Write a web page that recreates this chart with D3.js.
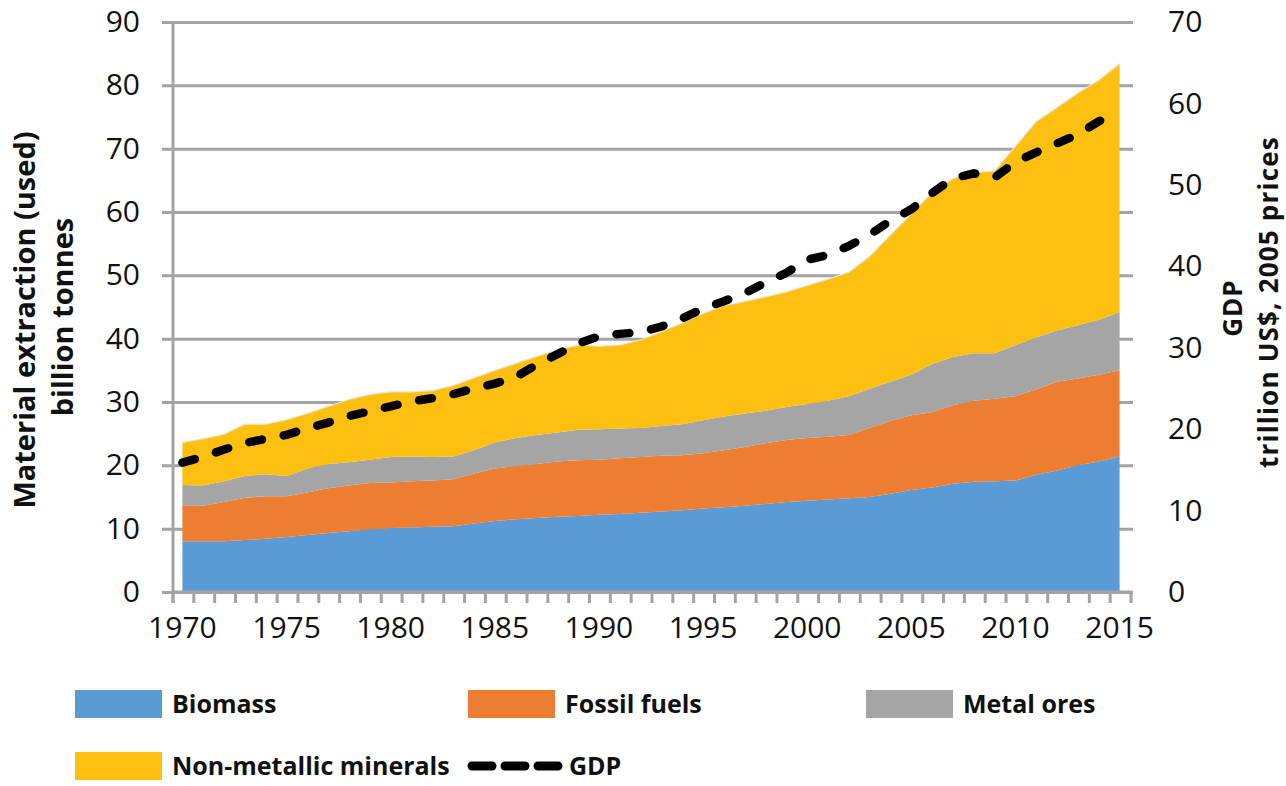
<!DOCTYPE html>
<html>
<head>
<meta charset="utf-8">
<script src="https://cdn.jsdelivr.net/npm/d3@7"></script>
<style>
  body { margin: 0; background: #fff; }
  svg { display: block; }
  text { font-family: "Open Sans", "DejaVu Sans", sans-serif; fill: #111; }
</style>
</head>
<body>
<svg id="chart" width="1286" height="786"></svg>
<script>
// years on the category axis
var years = d3.range(1970, 2016);

// material extraction, billion tonnes (one value per year)
var biomass = [8.0, 8.0, 8.0, 8.2, 8.4, 8.7, 9.0, 9.3, 9.6, 9.9,
  10.1, 10.2, 10.3, 10.4, 10.8, 11.2, 11.5, 11.7, 11.9, 12.0,
  12.2, 12.3, 12.5, 12.7, 12.9, 13.2, 13.4, 13.6, 13.9, 14.2,
  14.4, 14.6, 14.8, 15.0, 15.5, 16.1, 16.5, 17.1, 17.4, 17.5,
  17.6, 18.5, 19.2, 20.0, 20.6, 21.4];
var fossilFuels = [5.7, 5.6, 6.2, 6.7, 6.7, 6.4, 6.7, 7.1, 7.2, 7.3,
  7.2, 7.3, 7.3, 7.4, 7.9, 8.3, 8.4, 8.5, 8.7, 8.8,
  8.7, 8.8, 8.8, 8.8, 8.7, 8.7, 9.0, 9.3, 9.6, 9.8,
  9.9, 9.9, 10.0, 10.9, 11.5, 11.8, 11.9, 12.4, 12.8, 13.0,
  13.3, 13.5, 14.0, 13.7, 13.7, 13.6];
var metalOres = [3.2, 3.2, 3.3, 3.4, 3.5, 3.2, 3.8, 3.8, 3.7, 3.7,
  4.0, 3.9, 3.7, 3.6, 3.7, 4.1, 4.4, 4.6, 4.6, 4.8,
  4.8, 4.7, 4.6, 4.7, 4.9, 5.2, 5.3, 5.3, 5.1, 5.2,
  5.4, 5.7, 6.1, 6.2, 6.2, 6.4, 7.6, 7.6, 7.5, 7.2,
  8.1, 8.2, 8.1, 8.4, 8.7, 9.2];
var nonMetallic = [6.7, 7.4, 7.4, 8.2, 7.9, 8.9, 8.7, 9.1, 9.9, 10.3,
  10.3, 10.2, 10.5, 11.2, 11.4, 11.4, 11.8, 12.4, 13.0, 13.4,
  13.1, 13.2, 13.9, 14.9, 16.0, 16.9, 17.5, 17.7, 18.0, 18.2,
  18.7, 19.2, 19.6, 20.9, 23.2, 25.4, 27.1, 28.2, 28.5, 28.8,
  31.4, 34.1, 35.2, 36.7, 37.8, 39.2];

// GDP, trillion US$ (2005 prices), right axis
var gdp = [15.9, 16.6, 17.5, 18.3, 18.8, 19.3, 20.1, 20.8, 21.6, 22.2,
  22.8, 23.4, 23.8, 24.3, 25.0, 25.6, 26.4, 27.9, 29.2, 30.5,
  31.4, 31.7, 31.9, 32.6, 33.6, 34.8, 35.7, 36.7, 38.0, 39.2,
  40.8, 41.4, 42.5, 43.9, 45.6, 47.0, 49.0, 50.8, 51.4, 50.9,
  52.8, 54.0, 55.1, 56.2, 57.8, 58.9];

var leftTicks = d3.range(0, 91, 10);
var rightTicks = d3.range(0, 71, 10);
var yearLabels = d3.range(1970, 2016, 5);

var seriesNames = ["Biomass", "Fossil fuels", "Metal ores", "Non-metallic minerals"];
var seriesColors = ["#5b9bd5", "#ed7d31", "#a5a5a5", "#fdc010"];
var gridColor = "#a3a3a3";

(function () {
  var svg = d3.select("#chart");

  var plotLeft = 172, plotRight = 1130, plotTop = 22, plotBottom = 592;

  var x = d3.scaleBand().domain(years).range([plotLeft, plotRight]).padding(0);
  var y = d3.scaleLinear().domain([0, 90]).range([plotBottom, plotTop]);
  var y2 = d3.scaleLinear().domain([0, 70]).range([plotBottom, plotTop]);

  function cx(year) { return x(year) + x.bandwidth() / 2; }

  // rows for the stack
  var rows = years.map(function (yr, i) {
    return {
      year: yr,
      "Biomass": biomass[i],
      "Fossil fuels": fossilFuels[i],
      "Metal ores": metalOres[i],
      "Non-metallic minerals": nonMetallic[i]
    };
  });
  var stacked = d3.stack().keys(seriesNames)(rows);

  //
  // gridlines (behind the areas, running a bit past both ends)
  //
  var grid = svg.append("g")
    .attr("transform", "translate(1133,0)")
    .call(d3.axisLeft(y).tickValues(leftTicks).tickSize(1133 - 162).tickFormat(""));
  grid.select(".domain").remove();
  grid.selectAll("line").attr("stroke", gridColor).attr("stroke-width", 3);

  //
  // stacked areas
  //
  var area = d3.area()
    .x(function (d) { return cx(d.data.year); })
    .y0(function (d) { return y(d[0]); })
    .y1(function (d) { return y(d[1]); });

  svg.append("g").selectAll("path")
    .data(stacked)
    .join("path")
    .attr("fill", function (d, i) { return seriesColors[i]; })
    .attr("d", area);

  // thin light rim on top of the pile
  svg.append("path")
    .datum(stacked[3])
    .attr("fill", "none")
    .attr("stroke", "#e9e4d4")
    .attr("stroke-width", 1.2)
    .attr("d", d3.line()
      .x(function (d) { return cx(d.data.year); })
      .y(function (d) { return y(d[1]); }));

  //
  // axis lines and ticks
  //
  svg.append("line")
    .attr("x1", plotLeft + 1).attr("x2", plotLeft + 1)
    .attr("y1", plotTop).attr("y2", plotBottom + 11)
    .attr("stroke", gridColor).attr("stroke-width", 3);

  svg.append("line")
    .attr("x1", plotLeft).attr("x2", plotRight + 2)
    .attr("y1", plotBottom).attr("y2", plotBottom)
    .attr("stroke", gridColor).attr("stroke-width", 3);

  // category boundary ticks
  var bounds = years.map(function (yr) { return x(yr); }).concat([plotRight]);
  svg.append("g").selectAll("line")
    .data(bounds)
    .join("line")
    .attr("x1", function (d) { return d + 1; })
    .attr("x2", function (d) { return d + 1; })
    .attr("y1", plotBottom)
    .attr("y2", plotBottom + 11)
    .attr("stroke", gridColor)
    .attr("stroke-width", 3);

  // tick labels
  var axisL = svg.append("g")
    .attr("transform", "translate(" + plotLeft + ",0)")
    .call(d3.axisLeft(y).tickValues(leftTicks).tickSize(0).tickPadding(32));
  axisL.select(".domain").remove();

  var axisR = svg.append("g")
    .attr("transform", "translate(1133,0)")
    .call(d3.axisRight(y2).tickValues(rightTicks).tickSize(0).tickPadding(35));
  axisR.select(".domain").remove();

  var axisB = svg.append("g")
    .attr("transform", "translate(0," + plotBottom + ")")
    .call(d3.axisBottom(x).tickValues(yearLabels).tickSize(0).tickPadding(25));
  axisB.select(".domain").remove();

  svg.selectAll(".tick text")
    .style("font-family", '"Open Sans", sans-serif')
    .style("font-size", "30px")
    .attr("fill", "#111");

  //
  // GDP line
  //
  svg.append("path")
    .datum(gdp)
    .attr("fill", "none")
    .attr("stroke", "#000")
    .attr("stroke-width", 8.5)
    .attr("stroke-linecap", "round")
    .attr("stroke-dasharray", "13,22")
    .attr("d", d3.line()
      .x(function (d, i) { return cx(years[i]); })
      .y(function (d) { return y2(d); }));

  //
  // axis titles
  //
  function vtitle(tx, ty, label, size, spacing) {
    svg.append("text")
      .attr("transform", "translate(" + tx + "," + ty + ") rotate(-90)")
      .attr("text-anchor", "middle")
      .attr("dy", "0.36em")
      .style("font-size", size + "px")
      .style("font-weight", "bold")
      .style("letter-spacing", (spacing || 0) + "px")
      .text(label);
  }
  vtitle(25, 320, "Material extraction (used)", 29);
  vtitle(63, 317, "billion tonnes", 29);
  vtitle(1233, 308, "GDP", 26, 1);
  vtitle(1269, 302, "trillion US$, 2005 prices", 26, 1.2);

  //
  // legend
  //
  var legendItems = [
    { name: "Biomass", color: seriesColors[0], x: 75, y: 704 },
    { name: "Fossil fuels", color: seriesColors[1], x: 468, y: 704 },
    { name: "Metal ores", color: seriesColors[2], x: 866, y: 704 },
    { name: "Non-metallic minerals", color: seriesColors[3], x: 75, y: 766 }
  ];

  var legend = svg.append("g");
  legendItems.forEach(function (d) {
    legend.append("rect")
      .attr("x", d.x).attr("y", d.y - 14)
      .attr("width", 87).attr("height", 28)
      .attr("fill", d.color);
    legend.append("text")
      .attr("x", d.x + 97).attr("y", d.y)
      .attr("dy", "0.36em")
      .style("font-size", "25px")
      .style("font-weight", "bold")
      .text(d.name);
  });

  legend.append("line")
    .attr("x1", 472).attr("x2", 558)
    .attr("y1", 766).attr("y2", 766)
    .attr("stroke", "#000")
    .attr("stroke-width", 9)
    .attr("stroke-linecap", "round")
    .attr("stroke-dasharray", "20,13");
  legend.append("text")
    .attr("x", 569).attr("y", 766)
    .attr("dy", "0.36em")
    .style("font-size", "25px")
    .style("font-weight", "bold")
    .text("GDP");
})();
</script>
</body>
</html>
